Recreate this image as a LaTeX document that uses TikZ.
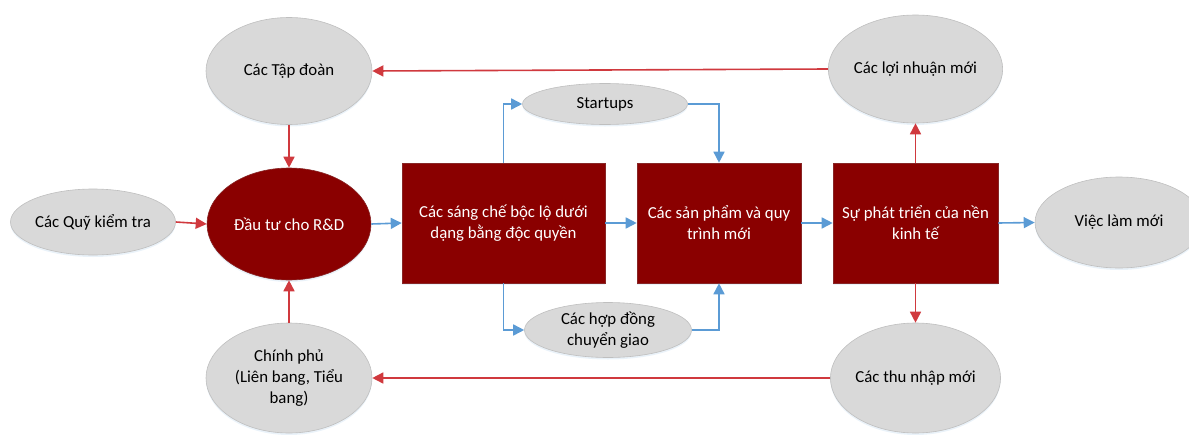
\documentclass[tikz,border=0pt]{standalone}
\usepackage{fontspec}
\setmainfont{Carlito}
\usetikzlibrary{shapes.geometric,arrows.meta,shadows}
\definecolor{dred}{HTML}{8A0000}
\definecolor{egray}{HTML}{D9D9D9}
\definecolor{eborder}{HTML}{BFBFBF}
\definecolor{ared}{HTML}{D0393E}
\definecolor{ablue}{HTML}{5B9BD5}
\tikzset{
  ell/.style={ellipse, fill=egray, draw=eborder, line width=0.6pt, inner sep=0pt,
    align=center, text=black, font=\fontsize{16.8}{21}\selectfont,
    drop shadow={shadow xshift=0pt, shadow yshift=-2pt, fill=ablue!25, opacity=0.5}},
  redell/.style={ellipse, fill=dred, draw=dred!70!gray, line width=0.6pt, inner sep=0pt,
    align=center, text=white, font=\fontsize{16.8}{21}\selectfont,
    drop shadow={shadow xshift=0pt, shadow yshift=-2pt, fill=ablue!25, opacity=0.5}},
  box/.style={rectangle, fill=dred, draw=dred!70!gray, line width=0.6pt, inner sep=0pt,
    align=center, text=white, font=\fontsize{16.8}{21}\selectfont,
    drop shadow={shadow xshift=0pt, shadow yshift=-2pt, fill=ablue!25, opacity=0.5}},
  rarr/.style={draw=ared, line width=1.6pt, -{Triangle[length=11pt,width=11pt]}},
  barr/.style={draw=ablue, line width=1.6pt, -{Triangle[length=11pt,width=11pt]}},
}
\begin{document}
\begin{tikzpicture}[x=1pt,y=-1pt]
\useasboundingbox (0,0) rectangle (1189,434);
\begin{scope}
\clip (0,0) rectangle (1189,434);
% ellipses
\node[ell, minimum width=166, minimum height=107] (tapdoan) at (289,71) {Các Tập đoàn};
\node[redell, minimum width=164, minimum height=112] (rd) at (289,224) {Đầu tư cho R\&D};
\node[ell, minimum width=165, minimum height=66] (quy) at (93,222) {Các Quỹ kiểm tra};
\node[ell, minimum width=166, minimum height=110] (cp) at (289,378) {Chính phủ\\(Liên bang, Tiểu\\bang)};
\node[ell, minimum width=165, minimum height=41] (st) at (605,104) {Startups};
\node[ell, minimum width=167, minimum height=55] (hd) at (608,330) {Các hợp đồng\\chuyển giao};
\node[ell, minimum width=166, minimum height=108] (ln) at (915.5,69) {Các lợi nhuận mới};
\node[ell, minimum width=168, minimum height=91] (vl) at (1119,222.5) {Việc làm mới};
\node[ell, minimum width=166, minimum height=110] (tn) at (915.5,378) {Các thu nhập mới};
% boxes
\node[box, minimum width=203, minimum height=120] (b1) at (503.5,223) {Các sáng chế bộc lộ dưới\\dạng bằng độc quyền};
\node[box, minimum width=164, minimum height=120] (b2) at (719,223) {Các sản phẩm và quy\\trình mới};
\node[box, minimum width=165, minimum height=120] (b3) at (915.5,223) {Sự phát triển của nền\\kinh tế};
\end{scope}
% red arrows
\draw[rarr] (ln.west) -- (tapdoan.east);
\draw[rarr] (tapdoan.south) -- (rd.north);
\draw[rarr] (quy.east) -- (rd.west);
\draw[rarr] (cp.north) -- (rd.south);
\draw[rarr] (tn.west) -- (cp.east);
\draw[rarr] (b3.north) -- (ln.south);
\draw[rarr] (b3.south) -- (tn.north);
% blue arrows
\draw[barr] (rd.east) -- (b1.west);
\draw[barr] (b1.east) -- (b2.west);
\draw[barr] (b2.east) -- (b3.west);
\draw[barr] (b3.east) -- (vl.west);
\draw[barr] (b1.north) |- (st.west);
\draw[barr] (st.east) -| (b2.north);
\draw[barr] (b1.south) |- (hd.west);
\draw[barr] (hd.east) -| (b2.south);
\end{tikzpicture}
\end{document}
